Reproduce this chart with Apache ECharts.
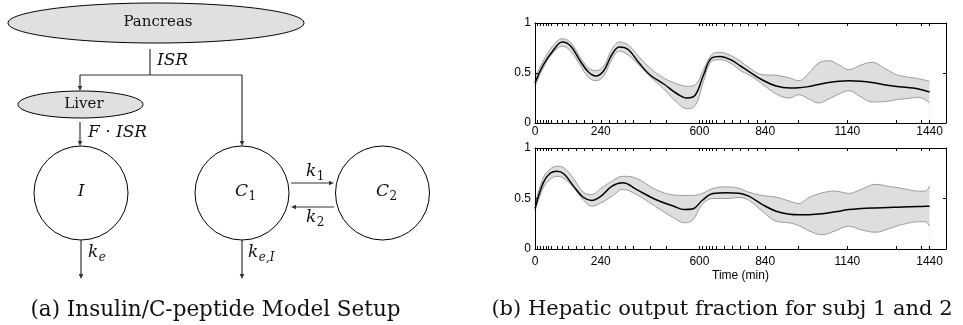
<!DOCTYPE html>
<html><head><meta charset="utf-8">
<script src="https://cdn.jsdelivr.net/npm/echarts/dist/echarts.min.js"></script>
<style>html,body{margin:0;padding:0;background:#fff}#c{width:963px;height:325px}</style>
</head><body><div id="c"></div>
<script>
// ---- data ----
const sampleTicks = [0,10,20,30,40,50,60,80,100,120,150,180,210,240,270,300,330,360,420,480,600,612,624,636,648,660,690,720,750,780,810,840,960,1140,1320,1410,1440];
const timeLabels = [0,240,600,840,1140,1440];
const yTickValues = [0,0.5,1];

const t1 = [0,30,65,100,130,165,195,222,250,280,308,340,380,420,470,520,555,585,615,645,676,713,750,780,830,880,930,962,1000,1035,1072,1110,1145,1190,1230,1280,1320,1360,1400,1440];
const mean1 = [0.40,0.58,0.72,0.81,0.77,0.62,0.51,0.47,0.52,0.68,0.76,0.735,0.60,0.48,0.39,0.29,0.25,0.28,0.48,0.65,0.665,0.635,0.57,0.517,0.43,0.37,0.35,0.352,0.365,0.385,0.405,0.418,0.423,0.418,0.405,0.38,0.365,0.355,0.34,0.31];
const upper1 = [0.45,0.62,0.77,0.843,0.805,0.657,0.55,0.523,0.567,0.733,0.81,0.78,0.66,0.55,0.45,0.39,0.367,0.383,0.533,0.683,0.707,0.677,0.617,0.557,0.483,0.477,0.45,0.423,0.50,0.60,0.623,0.58,0.533,0.58,0.607,0.54,0.483,0.46,0.443,0.417];
const lower1 = [0.367,0.55,0.70,0.767,0.72,0.577,0.457,0.423,0.467,0.633,0.717,0.68,0.575,0.465,0.34,0.20,0.143,0.175,0.417,0.617,0.633,0.60,0.523,0.483,0.39,0.29,0.25,0.283,0.24,0.20,0.24,0.29,0.323,0.26,0.21,0.215,0.233,0.245,0.257,0.20];

const t2 = [0,30,55,80,105,140,175,207,240,280,320,370,440,505,545,575,610,650,700,745,780,830,880,930,962,1000,1048,1096,1145,1190,1243,1290,1340,1400,1425,1440];
const mean2 = [0.40,0.655,0.75,0.77,0.745,0.625,0.515,0.48,0.52,0.62,0.655,0.59,0.49,0.425,0.39,0.395,0.48,0.55,0.557,0.553,0.523,0.44,0.374,0.345,0.34,0.34,0.348,0.368,0.39,0.40,0.407,0.412,0.417,0.42,0.423,0.424];
const upper2 = [0.44,0.705,0.79,0.82,0.805,0.70,0.565,0.54,0.60,0.67,0.72,0.70,0.59,0.535,0.53,0.53,0.55,0.60,0.615,0.60,0.563,0.53,0.513,0.473,0.45,0.51,0.556,0.573,0.55,0.59,0.64,0.62,0.60,0.573,0.573,0.623];
const lower2 = [0.374,0.606,0.69,0.72,0.70,0.61,0.49,0.424,0.455,0.52,0.59,0.54,0.42,0.31,0.26,0.285,0.44,0.50,0.50,0.51,0.483,0.374,0.275,0.258,0.232,0.18,0.142,0.18,0.225,0.19,0.166,0.20,0.242,0.27,0.27,0.225];

// ---- chart ----
const chart = echarts.init(document.getElementById('c'), null, {renderer:'canvas'});
const SANS = '"Liberation Sans", Arial, sans-serif';
const SERIF = '"DejaVu Serif", serif';
const fmt = v => String(v);

function xAx(grid, pos, showLabel, margin, name) {
  const a = {
    type:'value', gridIndex:grid, position:pos, min:0, max:1500, z:10,
    axisLine:{show:true, onZero:false, lineStyle:{color:'#000', width:1}},
    axisTick:{show:true, inside:true, length:3, customValues:sampleTicks, lineStyle:{color:'#000', width:1}},
    axisLabel:{show:showLabel, customValues:timeLabels, formatter:fmt, margin:margin, color:'#000', fontSize:12, fontFamily:SANS},
    splitLine:{show:false}
  };
  if (name) { a.name = name; a.nameLocation = 'middle'; a.nameGap = 21; a.nameTextStyle = {color:'#000', fontSize:12, fontFamily:SANS}; }
  return a;
}
function yAx(grid, pos, showLabel) {
  return {
    type:'value', gridIndex:grid, position:pos, min:0, max:1, interval:0.5, z:10,
    axisLine:{show:true, onZero:false, lineStyle:{color:'#000', width:1}},
    axisTick:{show:true, inside:true, length:3, customValues:yTickValues, lineStyle:{color:'#000'}},
    axisLabel:{show:showLabel, customValues:yTickValues, formatter:fmt, margin:4, color:'#000', fontSize:12, fontFamily:SANS},
    splitLine:{show:false}
  };
}
function band(idx, t, lo, up, mid) {
  const ax = {xAxisIndex: idx*2, yAxisIndex: idx*2};
  const sm = 0.4;
  return [
    // upper bound, filled grey down to the axis
    Object.assign({type:'line', smooth:sm, symbol:'none', silent:true, z:2,
      data:t.map((x,i)=>[x, up[i]]), lineStyle:{color:'#9c9c9c', width:1},
      areaStyle:{color:'#dedede', opacity:1, origin:'start'}}, ax),
    // lower bound, filled white down to the axis (leaves the band)
    Object.assign({type:'line', smooth:sm, symbol:'none', silent:true, z:3,
      data:t.map((x,i)=>[x, lo[i]]), lineStyle:{color:'#9c9c9c', width:1},
      areaStyle:{color:'#ffffff', opacity:1, origin:'start'}}, ax),
    // mean curve
    Object.assign({type:'line', smooth:sm, symbol:'none', silent:true, z:4,
      data:t.map((x,i)=>[x, mid[i]]), lineStyle:{color:'#000', width:1.5}}, ax)
  ];
}

// ---- diagram (graphic elements) ----
const G = [];
const ctx = document.createElement('canvas').getContext('2d');
function mw(text, font){ ctx.font = font; return ctx.measureText(text).width; }
function ell(cx,cy,rx,ry){ G.push({type:'ellipse', shape:{cx,cy,rx,ry}, style:{fill:'#e0e0e0', stroke:'#000', lineWidth:1}}); }
function circ(cx,cy,r){ G.push({type:'circle', shape:{cx,cy,r}, style:{fill:'#fff', stroke:'#000', lineWidth:1}}); }
function seg(x1,y1,x2,y2){ G.push({type:'line', shape:{x1,y1,x2,y2}, style:{stroke:'#333', lineWidth:1.2}}); }
function arrow(x1,y1,x2,y2){
  const dx=x2-x1, dy=y2-y1, L=Math.hypot(dx,dy), ux=dx/L, uy=dy/L, hl=5, hw=2.3;
  seg(x1,y1,x2-ux*3,y2-uy*3);
  G.push({type:'polygon', shape:{points:[[x2,y2],[x2-ux*hl-uy*hw, y2-uy*hl+ux*hw],[x2-ux*hl+uy*hw, y2-uy*hl-ux*hw]]}, style:{fill:'#333'}});
}
function txt(text, x, y, size, opts){
  G.push({type:'text', x:x, y:y, style:Object.assign({text:text, x:0, y:0, fontSize:size, fontFamily:SERIF, fill:'#111', align:'center', verticalAlign:'middle'}, opts||{})});
}
const MF = 17, SF = 12;
function math(left, y, main, sub, subUpright){
  txt(main, left, y, MF, {fontStyle:'italic', align:'left'});
  if (sub) {
    const w = mw(main, 'italic ' + MF + 'px "DejaVu Serif"');
    txt(sub, left + w + 0.5, y + 5, SF, {fontStyle: subUpright ? 'normal' : 'italic', align:'left'});
  }
}

ell(156, 23, 148, 20);
txt('Pancreas', 158, 22, 15);
seg(150, 49, 150, 75);
math(157, 61, 'ISR');
seg(80, 75, 242, 75);
arrow(80, 75, 80, 91);
arrow(242, 75, 242, 146);
ell(80.5, 104.5, 62.5, 13.5);
txt('Liver', 84, 104, 15);
arrow(80, 122, 80, 146);
math(88, 133, 'F · ISR');
circ(81, 193, 47);
circ(242, 193, 47);
circ(382.5, 193, 47);
txt('I', 81, 192, MF, {fontStyle:'italic'});
math(235, 192, 'C', '1', true);
math(376, 192, 'C', '2', true);
arrow(291, 183, 334, 183);
arrow(334, 207, 291, 207);
math(306, 172, 'k', '1', true);
math(306, 218, 'k', '2', true);
arrow(81, 240, 81, 279);
arrow(242, 240, 242, 279);
math(88, 253, 'k', 'e');
math(248, 253, 'k', 'e,I');
txt('(a) Insulin/C-peptide Model Setup', 215.5, 310, 21.5);
txt('(b) Hepatic output fraction for subj 1 and 2', 722, 310, 21);

chart.setOption({
  backgroundColor:'#fff',
  animation:false,
  grid:[
    {left:535, top:23, width:411, height:100, outerBoundsMode:'none', containLabel:false},
    {left:535, top:148, width:411, height:101, outerBoundsMode:'none', containLabel:false}
  ],
  xAxis:[ xAx(0,'bottom',true,3), xAx(0,'top',false,3), xAx(1,'bottom',true,7,'Time (min)'), xAx(1,'top',false,3) ],
  yAxis:[ yAx(0,'left',true), yAx(0,'right',false), yAx(1,'left',true), yAx(1,'right',false) ],
  series:[].concat(band(0, t1, lower1, upper1, mean1), band(1, t2, lower2, upper2, mean2)),
  graphic:{elements:G}
});
</script>
</body></html>
